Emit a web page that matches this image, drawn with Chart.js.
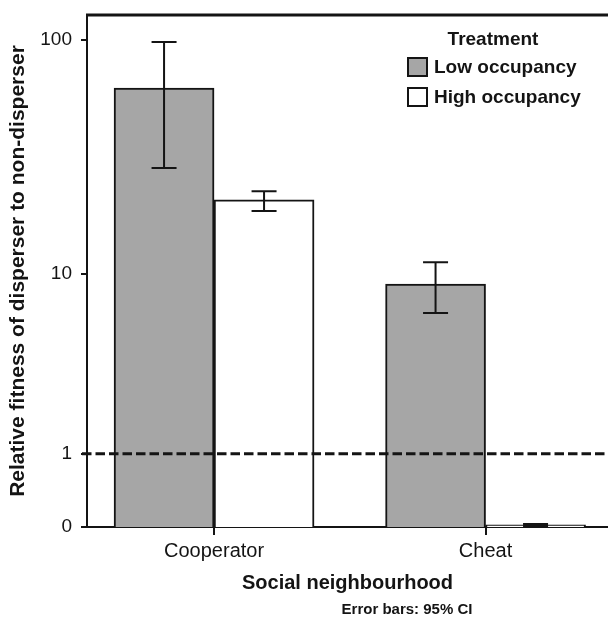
<!DOCTYPE html>
<html>
<head>
<meta charset="utf-8">
<script src="https://cdn.jsdelivr.net/npm/chart.js@4.4.1/dist/chart.umd.min.js"></script>
<style>
    html, body { margin: 0; padding: 0; background: #fff; }
</style>
</head>
<body>
<canvas id="fitnessChart" width="608" height="617"></canvas>
<script>
// Datos
const categories = ['Cooperator', 'Cheat'];
const lowOccupancy = [63, 9.0];
const highOccupancy = [21.2, 0.02];
// IC 95%
const lowCiLower = [29, 6.6];
const lowCiUpper = [98, 11.3];
const highCiLower = [19.0, 0.01];
const highCiUpper = [23.1, 0.03];
const yTickLabels = [0, 1, 10, 100];
const refValue = 1;

// el eje es log10(valor + 1)
const shift = v => v + 1;

Chart.defaults.font.family = '"Liberation Sans", Arial, sans-serif';
Chart.defaults.color = '#111';

const INK = '#141414';

// barras de error
const errorBars = {
    id: 'errorBars',
    afterDatasetsDraw(chart) {
        const ctx = chart.ctx;
        const yScale = chart.scales.y;
        const lows = [lowCiLower, highCiLower];
        const highs = [lowCiUpper, highCiUpper];
        ctx.save();
        ctx.strokeStyle = INK;
        ctx.lineWidth = 2;
        chart.data.datasets.forEach((ds, d) => {
            chart.getDatasetMeta(d).data.forEach((bar, i) => {
                const yTop = yScale.getPixelForValue(shift(highs[d][i]));
                const yBot = yScale.getPixelForValue(shift(lows[d][i]));
                ctx.beginPath();
                ctx.moveTo(bar.x, yTop); ctx.lineTo(bar.x, yBot);
                ctx.moveTo(bar.x - 12.5, yTop); ctx.lineTo(bar.x + 12.5, yTop);
                ctx.moveTo(bar.x - 12.5, yBot); ctx.lineTo(bar.x + 12.5, yBot);
                ctx.stroke();
            });
        });
        ctx.restore();
    }
};

// línea discontinua en 1 y borde superior
const extras = {
    id: 'extras',
    afterDatasetsDraw(chart) {
        const ctx = chart.ctx;
        const a = chart.chartArea;
        const y = chart.scales.y.getPixelForValue(shift(refValue));
        ctx.save();
        ctx.strokeStyle = INK;
        ctx.lineWidth = 3;
        ctx.setLineDash([9.5, 4]);
        ctx.beginPath();
        ctx.moveTo(a.left - 5, y); ctx.lineTo(a.right, y);
        ctx.stroke();
        ctx.setLineDash([]);
        ctx.beginPath();
        ctx.moveTo(a.left - 1, a.top); ctx.lineTo(a.right, a.top);
        ctx.stroke();
        ctx.restore();
    },
    afterDraw(chart) {
        const ctx = chart.ctx;
        const a = chart.chartArea;
        ctx.save();
        ctx.fillStyle = INK;
        // leyenda
        ctx.font = 'bold 19px "Liberation Sans", Arial, sans-serif';
        ctx.textAlign = 'center';
        ctx.textBaseline = 'middle';
        ctx.fillText('Treatment', a.right - 115, a.top + 25);
        ctx.textAlign = 'left';
        chart.data.datasets.forEach((ds, i) => {
            const bx = a.right - 200, by = a.top + 43 + i * 30;
            ctx.fillStyle = ds.backgroundColor;
            ctx.fillRect(bx, by, 19, 18);
            ctx.lineWidth = 2;
            ctx.strokeStyle = INK;
            ctx.strokeRect(bx, by, 19, 18);
            ctx.fillStyle = INK;
            ctx.fillText(ds.label, bx + 26, by + 10);
        });
        // nota
        ctx.font = 'bold 15px "Liberation Sans", Arial, sans-serif';
        ctx.textAlign = 'center';
        ctx.fillText('Error bars: 95% CI', 407, 610);
        ctx.restore();
    }
};

const ctx = document.getElementById('fitnessChart').getContext('2d');
const fitnessChart = new Chart(ctx, {
    type: 'bar',
    data: {
        datasets: [{
            label: 'Low occupancy',
            data: categories.map((c, i) => ({ x: i, y: shift(lowOccupancy[i]) })),
            backgroundColor: '#a6a6a6',
            borderColor: INK,
            borderWidth: 2,
            barThickness: 100
        }, {
            label: 'High occupancy',
            data: categories.map((c, i) => ({ x: i, y: shift(highOccupancy[i]) })),
            backgroundColor: '#ffffff',
            borderColor: INK,
            borderWidth: 2,
            barThickness: 100
        }]
    },
    options: {
        responsive: false,
        animation: false,
        devicePixelRatio: 1,
        layout: { padding: { top: 15, right: 0, bottom: 0, left: 0 } },
        plugins: {
            legend: { display: false },
            tooltip: { enabled: false }
        },
        scales: {
            x: {
                type: 'linear',
                offset: false,
                min: -0.468,
                max: 1.451,
                afterBuildTicks: s => { s.ticks = categories.map((c, i) => ({ value: i })); },
                afterFit: s => { s.height = 90; s.paddingLeft = 0; s.paddingRight = 0; },
                ticks: {
                    callback: v => categories[v],
                    font: { size: 20 },
                    color: INK,
                    padding: 4,
                    autoSkip: false,
                    maxRotation: 0
                },
                grid: { offset: false, drawOnChartArea: false, tickLength: 8, color: INK, lineWidth: 2 },
                border: { color: INK, width: 2 },
                title: {
                    display: true,
                    text: 'Social neighbourhood',
                    font: { size: 20, weight: 'bold' },
                    color: INK,
                    padding: { top: 0, bottom: 22 }
                }
            },
            y: {
                type: 'logarithmic',
                min: 1,
                max: 128,
                afterBuildTicks: s => { s.ticks = yTickLabels.map(v => ({ value: shift(v) })); },
                afterFit: s => { s.width = 87; s.paddingTop = 0; s.paddingBottom = 0; },
                ticks: {
                    callback: v => String(Math.round(v - 1)),
                    font: { size: 19 },
                    color: INK,
                    padding: 9,
                    autoSkip: false
                },
                grid: { drawOnChartArea: false, tickLength: 6, color: INK, lineWidth: 2 },
                border: { color: INK, width: 2 },
                title: {
                    display: true,
                    text: 'Relative fitness of disperser to non-disperser',
                    font: { size: 21, weight: 'bold' },
                    color: INK,
                    padding: { top: 6, bottom: 0 }
                }
            }
        }
    },
    plugins: [errorBars, extras]
});
</script>
</body>
</html>
